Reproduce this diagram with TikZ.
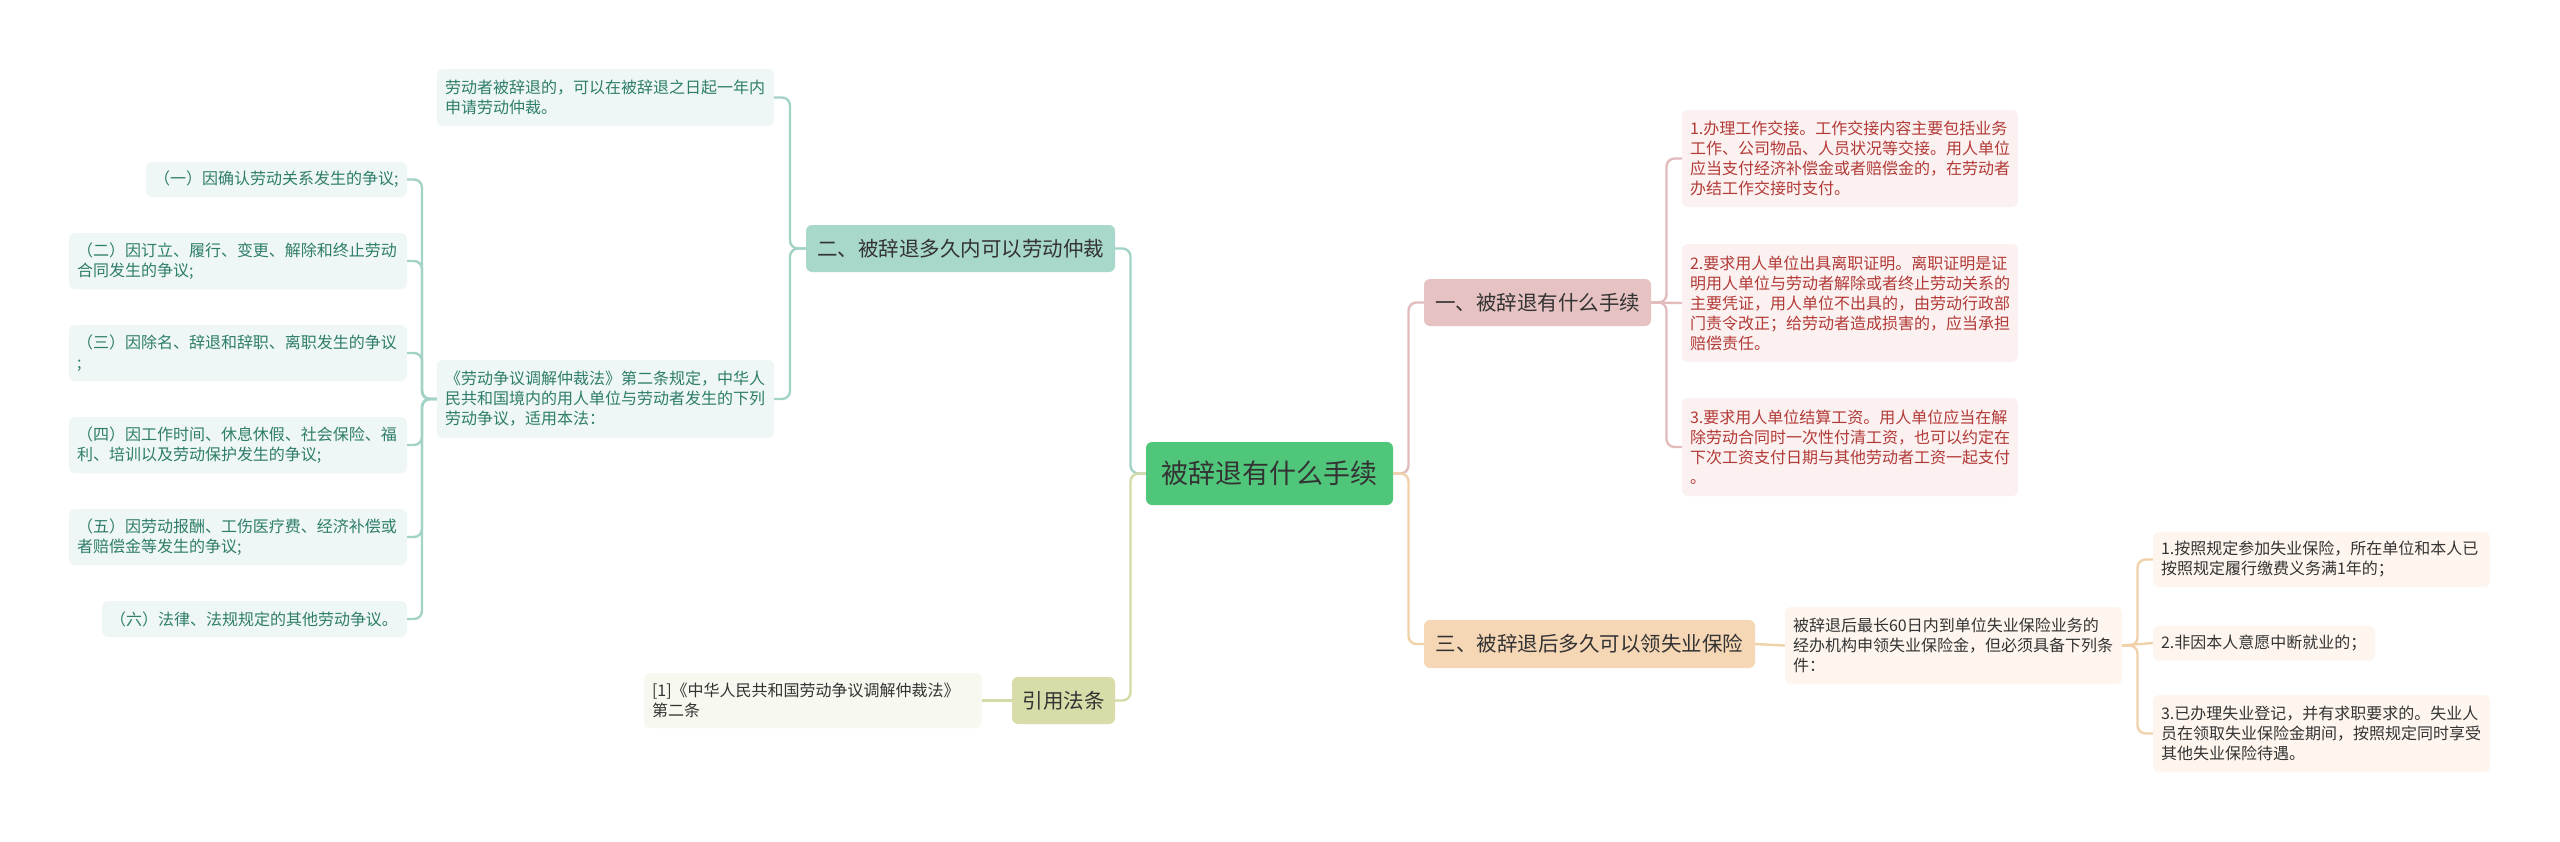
\documentclass[tikz,border=0pt]{standalone}
\usepackage{fontspec}
\setmainfont{Noto Sans CJK SC}
\usetikzlibrary{calc}
\definecolor{cmain}{HTML}{50C67B}
\definecolor{ctealbox}{HTML}{A8D7CC}
\definecolor{cpinkbox}{HTML}{E6C2C2}
\definecolor{cpeachbox}{HTML}{F5D7B6}
\definecolor{colivebox}{HTML}{D7DCA9}
\definecolor{ctealleaf}{HTML}{EEF7F5}
\definecolor{cpinkleaf}{HTML}{FBF1F1}
\definecolor{cpeachleaf}{HTML}{FEF6EE}
\definecolor{coliveleaf}{HTML}{F7F8EF}
\definecolor{ctealtxt}{HTML}{2F7D6A}
\definecolor{cpinktxt}{HTML}{B23A36}
\definecolor{cdark}{HTML}{333333}
\definecolor{ctealln}{HTML}{A3D2C7}
\definecolor{cpinkln}{HTML}{E2BCBC}
\definecolor{cpeachln}{HTML}{F1D1AA}
\definecolor{coliveln}{HTML}{D5DBA6}
\newcommand\elbow[3]{\draw[#1] (#2) -| ($(#2)!.5!(#3)$) |- (#3);}
\begin{document}
\begin{tikzpicture}[x=1pt,y=-1pt,
  lvl/.style={rounded corners=6pt, inner sep=0pt, align=center, text=cdark, font=\fontsize{20.5pt}{24pt}\selectfont},
  leaf/.style={rounded corners=6pt, inner xsep=8pt, inner ysep=0pt, align=left, font=\fontsize{16pt}{20pt}\selectfont},
  tleaf/.style={leaf, fill=ctealleaf, text=ctealtxt},
  pleaf/.style={leaf, fill=cpinkleaf, text=cpinktxt},
  qleaf/.style={leaf, fill=cpeachleaf, text=cdark},
  oleaf/.style={leaf, fill=coliveleaf, text=cdark},
  ln/.style={line width=2.4pt, rounded corners=8pt},
  tln/.style={ln, draw=ctealln},
  pln/.style={ln, draw=cpinkln},
  qln/.style={ln, draw=cpeachln},
  oln/.style={ln, draw=coliveln}]
\useasboundingbox (0,0) rectangle (2560,841);
\fill[white] (0,0) rectangle (2560,841);

% main and level-1 nodes
\node[lvl, fill=cmain, minimum width=247pt, minimum height=63pt, font=\fontsize{27pt}{30pt}\selectfont] (C) at (1269.5,473.5) {被辞退有什么手续};
\node[lvl, fill=ctealbox, minimum width=309pt, minimum height=47pt] (B2) at (960.5,248.5) {二、被辞退多久内可以劳动仲裁};
\node[lvl, fill=cpinkbox, minimum width=227pt, minimum height=47pt] (B1) at (1537.5,302.5) {一、被辞退有什么手续};
\node[lvl, fill=cpeachbox, minimum width=331pt, minimum height=48pt] (B3) at (1589.5,644) {三、被辞退后多久可以领失业保险};
\node[lvl, fill=colivebox, minimum width=103pt, minimum height=47pt] (B4) at (1063.5,700.5) {引用法条};

% teal leaves
\node[tleaf, text width=321pt, minimum height=57pt] (L0) at (605.5,97.5) {劳动者被辞退的，可以在被辞退之日起一年内\\申请劳动仲裁。};
\node[tleaf, text width=321pt, minimum height=78pt] (L1) at (605.5,399) {《劳动争议调解仲裁法》第二条规定，中华人\\民共和国境内的用人单位与劳动者发生的下列\\劳动争议，适用本法：};
\node[tleaf, text width=245pt, minimum height=35pt] (A1) at (276.5,179.5) {（一）因确认劳动关系发生的争议;};
\node[tleaf, text width=322pt, minimum height=56pt] (A2) at (238,261) {（二）因订立、履行、变更、解除和终止劳动\\合同发生的争议;};
\node[tleaf, text width=322pt, minimum height=56pt] (A3) at (238,353) {（三）因除名、辞退和辞职、离职发生的争议\\;};
\node[tleaf, text width=322pt, minimum height=56pt] (A4) at (238,445) {（四）因工作时间、休息休假、社会保险、福\\利、培训以及劳动保护发生的争议;};
\node[tleaf, text width=322pt, minimum height=56pt] (A5) at (238,537) {（五）因劳动报酬、工伤医疗费、经济补偿或\\者赔偿金等发生的争议;};
\node[tleaf, text width=289pt, minimum height=36pt] (A6) at (254.5,619) {（六）法律、法规规定的其他劳动争议。};

% pink leaves
\node[pleaf, text width=320pt, minimum height=97pt] (P1) at (1850,158.5) {1.办理工作交接。工作交接内容主要包括业务\\工作、公司物品、人员状况等交接。用人单位\\应当支付经济补偿金或者赔偿金的，在劳动者\\办结工作交接时支付。};
\node[pleaf, text width=320pt, minimum height=118pt] (P2) at (1850,303) {2.要求用人单位出具离职证明。离职证明是证\\明用人单位与劳动者解除或者终止劳动关系的\\主要凭证，用人单位不出具的，由劳动行政部\\门责令改正；给劳动者造成损害的，应当承担\\赔偿责任。};
\node[pleaf, text width=320pt, minimum height=98pt] (P3) at (1850,447) {3.要求用人单位结算工资。用人单位应当在解\\除劳动合同时一次性付清工资，也可以约定在\\下次工资支付日期与其他劳动者工资一起支付\\。};

% peach leaves
\node[qleaf, text width=321pt, minimum height=77pt] (Q0) at (1953.5,645.5) {被辞退后最长60日内到单位失业保险业务的\\经办机构申领失业保险金，但必须具备下列条\\件：};
\node[qleaf, text width=321pt, minimum height=55pt] (Q1) at (2321.5,559.5) {1.按照规定参加失业保险，所在单位和本人已\\按照规定履行缴费义务满1年的；};
\node[qleaf, text width=206pt, minimum height=35pt] (Q2) at (2264,643) {2.非因本人意愿中断就业的；};
\node[qleaf, text width=321pt, minimum height=77pt] (Q3) at (2321.5,733.5) {3.已办理失业登记，并有求职要求的。失业人\\员在领取失业保险金期间，按照规定同时享受\\其他失业保险待遇。};

% olive leaf
\node[oleaf, text width=322pt, minimum height=55pt] (R0) at (813,700.5) {[1]《中华人民共和国劳动争议调解仲裁法》\\第二条};

% connectors
\elbow{tln}{C.west}{B2.east}
\elbow{oln}{C.west}{B4.east}
\elbow{pln}{C.east}{B1.west}
\elbow{qln}{C.east}{B3.west}
\elbow{tln}{B2.west}{L0.east}
\elbow{tln}{B2.west}{L1.east}
\elbow{tln}{L1.west}{A1.east}
\elbow{tln}{L1.west}{A2.east}
\elbow{tln}{L1.west}{A3.east}
\elbow{tln}{L1.west}{A4.east}
\elbow{tln}{L1.west}{A5.east}
\elbow{tln}{L1.west}{A6.east}
\elbow{pln}{B1.east}{P1.west}
\draw[pln] (B1.east) -- (P2.west);
\elbow{pln}{B1.east}{P3.west}
\draw[qln] (B3.east) -- (Q0.west);
\elbow{qln}{Q0.east}{Q1.west}
\draw[qln] (Q0.east) -- (Q2.west);
\elbow{qln}{Q0.east}{Q3.west}
\draw[oln] (B4.west) -- (R0.east);
\end{tikzpicture}
\end{document}
